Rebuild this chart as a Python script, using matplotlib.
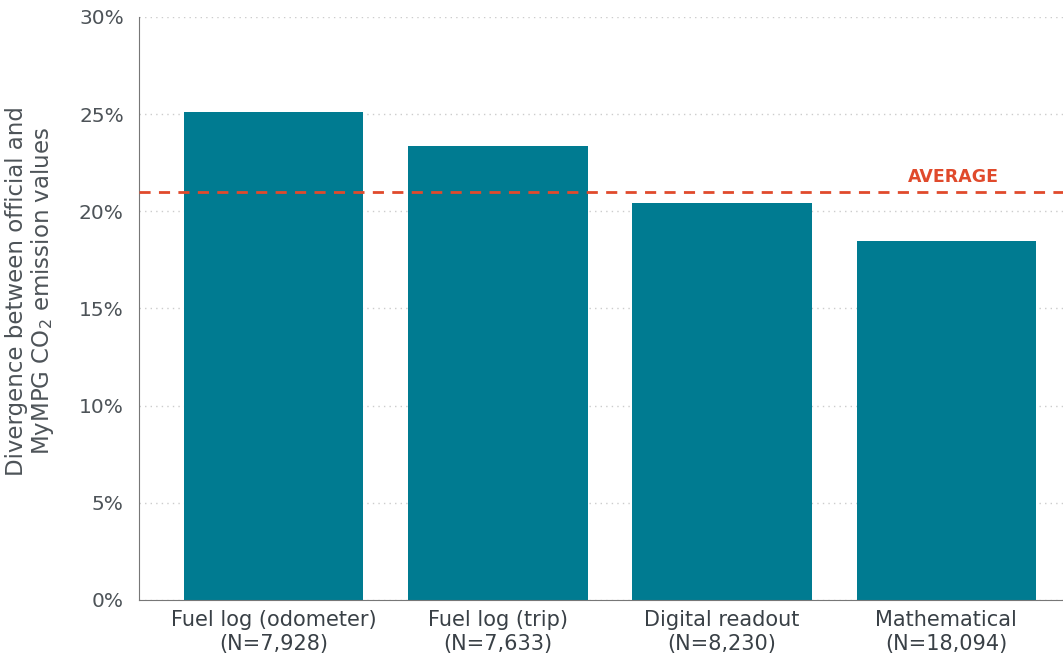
import matplotlib.pyplot as plt
from matplotlib.ticker import FuncFormatter

plt.rcParams['font.family'] = ['DejaVu Sans']

categories = ["Fuel log (odometer)\n(N=7,928)", "Fuel log (trip)\n(N=7,633)",
              "Digital readout\n(N=8,230)", "Mathematical\n(N=18,094)"]
divergence = [25.1, 23.35, 20.45, 18.45]
average = 21.0

teal = "#007B91"
red = "#E04A2C"
grey = "#4D5358"

fig = plt.figure(figsize=(10.63, 6.61), dpi=100)
ax = fig.add_axes([0.1308, 0.0923, 0.8692, 0.882])

x = range(len(categories))
ax.bar(x, divergence, width=0.8, color=teal, zorder=2)
ax.axhline(average, color=red, linestyle=(0, (4, 3)), linewidth=2, zorder=3)
ax.text(3.03, average + 0.3, "AVERAGE", color=red, fontsize=12.5,
        fontweight='bold', ha='center', va='bottom')

ax.set_xlim(-0.6, 3.52)
ax.set_ylim(0, 30)
ax.set_yticks(range(0, 31, 5))
ax.yaxis.set_major_formatter(FuncFormatter(lambda v, p: f"{v:.0f}%"))
ax.set_xticks(list(x))
ax.set_xticklabels(categories, fontsize=15, color="#394046",
                   linespacing=1.25)
ax.tick_params(axis='y', labelsize=14.5, colors=grey, length=0, pad=11)
ax.tick_params(axis='x', length=0, pad=7)

ax.grid(axis='y', color='#CCCCCC', linestyle=(0, (1, 3)), linewidth=1, zorder=0)
for s in ['top', 'right']:
    ax.spines[s].set_visible(False)
ax.spines['left'].set_color('#777777')
ax.spines['bottom'].set_color('#777777')

ax.set_ylabel("Divergence between official and\nMyMPG CO$_2$ emission values",
              fontsize=16.5, color=grey, linespacing=1.05)
ax.yaxis.set_label_coords(-0.09, 0.53)

fig.savefig("out.png", dpi=100)
